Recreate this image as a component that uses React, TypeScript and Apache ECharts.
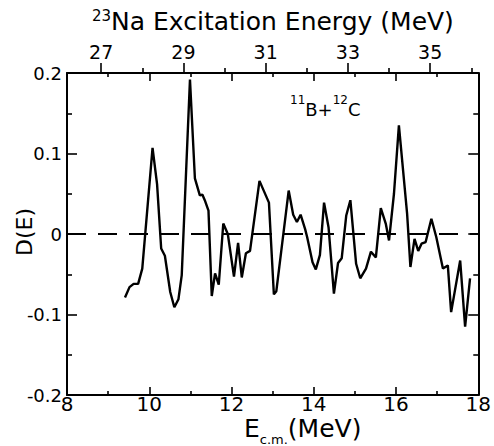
import React, { useEffect, useRef } from "react";
import * as echarts from "echarts";

// Ecm (MeV) and D(E) values
const energies: number[] = [
  9.41, 9.52, 9.62, 9.73, 9.83, 10.08, 10.19, 10.29, 10.38, 10.51, 10.61, 10.71, 10.79,
  10.99, 11.11, 11.23, 11.29, 11.35, 11.44, 11.52, 11.6, 11.69, 11.8, 11.91, 12.06, 12.16,
  12.25, 12.35, 12.45, 12.68, 12.91, 13.03, 13.09, 13.39, 13.5, 13.59, 13.68, 13.79, 13.84,
  13.97, 14.05, 14.15, 14.25, 14.36, 14.49, 14.59, 14.68, 14.79, 14.89, 15.03, 15.13, 15.27,
  15.39, 15.51, 15.63, 15.75, 15.83, 15.95, 16.07, 16.27, 16.35, 16.45, 16.54, 16.62, 16.72,
  16.86, 16.98, 17.14, 17.26, 17.34, 17.56, 17.68, 17.8,
];
const dValues: number[] = [
  -0.079, -0.066, -0.062, -0.062, -0.043, 0.107, 0.062, -0.018, -0.027, -0.072, -0.091, -0.081, -0.051,
  0.192, 0.069, 0.048, 0.049, 0.042, 0.029, -0.077, -0.049, -0.063, 0.013, 0.0, -0.053, -0.011,
  -0.054, -0.024, -0.021, 0.066, 0.039, -0.075, -0.071, 0.054, 0.024, 0.015, 0.024, 0.006, -0.004,
  -0.035, -0.044, -0.026, 0.039, 0.008, -0.074, -0.036, -0.03, 0.023, 0.042, -0.037, -0.055, -0.043,
  -0.022, -0.029, 0.032, 0.013, -0.008, 0.05, 0.135, 0.025, -0.041, -0.006, -0.021, -0.012, -0.01,
  0.019, -0.004, -0.043, -0.039, -0.097, -0.033, -0.115, -0.055,
];
const baselineValue = 0;
const naMajorTicks: number[] = [27, 29, 31, 33, 35];
const naMinorTicks: number[] = [28, 30, 32, 34, 36];
const naOffset = 18.17; // Ex(23Na) = Ecm + Q

const FONT = "DejaVu Sans";

export default function App() {
  const ref = useRef<HTMLDivElement>(null);
  useEffect(() => {
    if (!ref.current) return;
    const chart = echarts.init(ref.current, null, { renderer: "svg" });
    const black = "#000";
    const axisLine = { show: true, onZero: false, lineStyle: { color: black, width: 2 } };
    const ecmAxis = (pos: "bottom" | "top", labels: boolean) => ({
      type: "value",
      position: pos,
      min: 8,
      max: 18,
      interval: 2,
      axisLine,
      axisTick: { show: true, inside: true, length: 8, lineStyle: { color: black, width: 1.6 } },
      minorTick: { show: true, splitNumber: 2, length: 4, lineStyle: { color: black, width: 1.6 } },
      axisLabel: { show: labels, color: black, fontSize: 20, fontFamily: FONT, margin: -1 },
      splitLine: { show: false },
      minorSplitLine: { show: false },
    });
    const yAx = (pos: "left" | "right", labels: boolean) => ({
      type: "value",
      position: pos,
      min: -0.2,
      max: 0.2,
      interval: 0.1,
      axisLine,
      axisTick: { show: true, inside: true, length: 10, lineStyle: { color: black, width: 1.6 } },
      minorTick: { show: true, splitNumber: 2, length: 5, lineStyle: { color: black, width: 1.6 } },
      axisLabel: {
        show: labels,
        color: black,
        fontSize: 18,
        fontFamily: FONT,
        margin: 5,
        formatter: (v: number) => (Math.abs(v) < 1e-9 ? "0" : v.toFixed(1)),
      },
      splitLine: { show: false },
    });
    chart.setOption({
      animation: false,
      backgroundColor: "#fff",
      grid: { left: 67, right: 10, top: 73, bottom: 51, containLabel: false },
      xAxis: [
        ecmAxis("bottom", true),
        ecmAxis("top", false),
        {
          type: "value",
          position: "top",
          min: 8 + naOffset,
          max: 18 + naOffset,
          axisLine: { show: false, onZero: false },
          axisTick: { show: true, inside: false, length: 10, customValues: naMajorTicks, lineStyle: { color: black, width: 1.6 } },
          axisLabel: { show: true, customValues: naMajorTicks, color: black, fontSize: 19, fontFamily: FONT, margin: 12 },
          splitLine: { show: false },
        },
        {
          type: "value",
          position: "top",
          min: 8 + naOffset,
          max: 18 + naOffset,
          axisLine: { show: false, onZero: false },
          axisTick: { show: true, inside: false, length: 5, customValues: naMinorTicks, lineStyle: { color: black, width: 1.6 } },
          axisLabel: { show: false },
          splitLine: { show: false },
        },
      ],
      yAxis: [yAx("left", true), yAx("right", false)],
      series: [
        {
          type: "line",
          xAxisIndex: 0,
          yAxisIndex: 0,
          data: energies.map((e, i) => [e, dValues[i]]),
          symbol: "none",
          lineStyle: { color: black, width: 2.4 },
          markLine: {
            silent: true,
            symbol: ["none", "none"],
            label: { show: false },
            lineStyle: { color: black, width: 2, type: [19, 12] },
            data: [{ yAxis: baselineValue }],
          },
        },
      ],
      graphic: [
        {
          type: "text",
          x: 92,
          y: 8,
          style: {
            text: "{s|23}{n|Na Excitation Energy (MeV)}",
            rich: {
              s: { fontSize: 15, fontFamily: FONT, fill: black, verticalAlign: "top", lineHeight: 26 },
              n: { fontSize: 25, fontFamily: FONT, fill: black, lineHeight: 26, verticalAlign: "bottom" },
            },
          },
        },
        {
          type: "text",
          x: 290,
          y: 94,
          style: {
            text: "{s|11}{n|B+}{s|12}{n|C}",
            rich: {
              s: { fontSize: 12, fontFamily: FONT, fill: black, verticalAlign: "top", lineHeight: 24 },
              n: { fontSize: 18, fontFamily: FONT, fill: black, lineHeight: 24, verticalAlign: "bottom" },
            },
          },
        },
        {
          type: "text",
          x: 244,
          y: 416,
          style: {
            text: "{n|E}{b|c.m.}{n|(MeV)}",
            rich: {
              n: { fontSize: 25, fontFamily: FONT, fill: black, lineHeight: 30, verticalAlign: "top" },
              b: { fontSize: 13, fontFamily: FONT, fill: black, lineHeight: 30, verticalAlign: "bottom" },
            },
          },
        },
        {
          type: "text",
          x: 24,
          y: 232,
          rotation: Math.PI / 2,
          style: {
            text: "D(E)",
            fontSize: 22,
            fontFamily: FONT,
            fill: black,
            align: "center",
            verticalAlign: "middle",
          },
        },
      ],
    });
    return () => chart.dispose();
  }, []);
  return (
    <div
      ref={ref}
      style={{ position: "fixed", left: 0, top: 0, width: 494, height: 446, background: "#fff" }}
    />
  );
}
